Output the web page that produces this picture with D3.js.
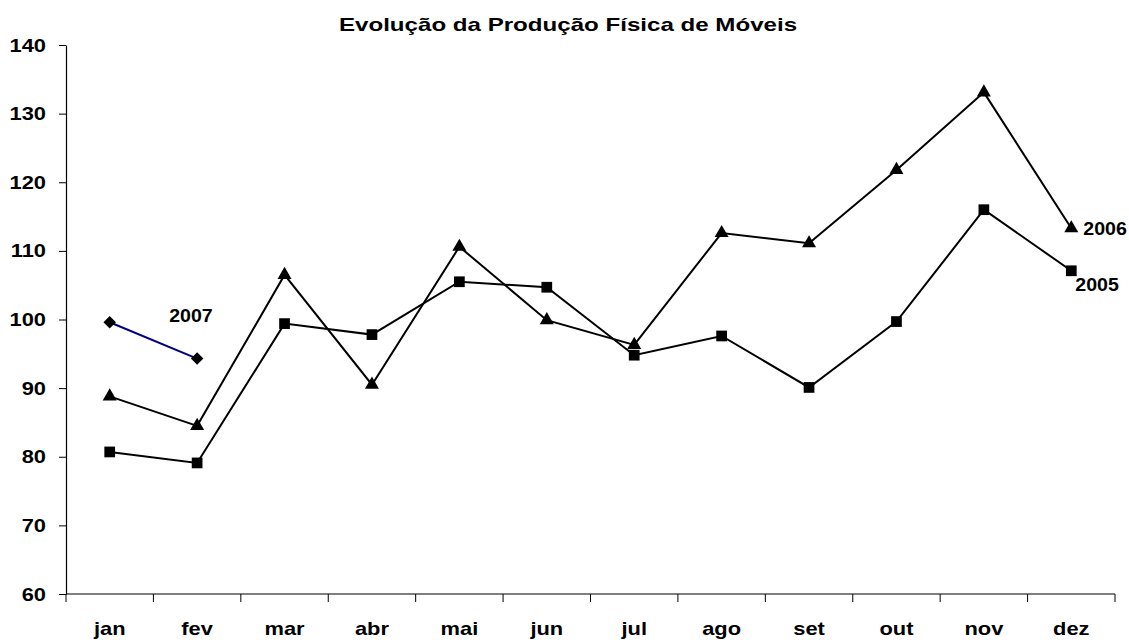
<!DOCTYPE html>
<html>
<head>
<meta charset="utf-8">
<script src="https://cdn.jsdelivr.net/npm/d3@7"></script>
<style>
  html, body { margin: 0; padding: 0; background: #fff; }
  svg { display: block; }
  text { font-family: "Liberation Sans", Arial, sans-serif; font-weight: bold; fill: #000; }
</style>
</head>
<body>
<svg id="chart" width="1129" height="640"></svg>
<script>
const months = ["jan","fev","mar","abr","mai","jun","jul","ago","set","out","nov","dez"];
const yTicks = [60,70,80,90,100,110,120,130,140];
const s2005 = [80.7,79.1,99.4,97.8,105.5,104.7,94.8,97.6,90.1,99.7,116.0,107.1];
const s2006 = [88.8,84.5,106.5,90.5,110.6,99.9,96.3,112.6,111.1,121.8,133.1,113.3];
const s2007 = [99.6,94.3];
const title = "Evolução da Produção Física de Móveis";

(function(){
const svg = d3.select("#chart");
const pLeft = 66, pRight = 1115, pTop = 45, pBottom = 594;

const x = d3.scaleBand().domain(months).range([pLeft, pRight]).padding(0);
const y = d3.scaleLinear().domain([60,140]).range([pBottom, pTop]);
const cx = m => x(m) + x.bandwidth()/2;
const SX = 1.25; // horizontal glyph stretch seen in the reference

// Title
svg.append("text")
  .attr("transform", `translate(568,31) scale(1.34,1)`)
  .attr("text-anchor","middle")
  .style("font-size","18px")
  .text(title);

// Y axis
const yAxis = svg.append("g").attr("transform",`translate(${pLeft},0)`)
  .call(d3.axisLeft(y).tickValues(yTicks).tickSize(7).tickSizeOuter(0).tickPadding(13));
yAxis.select(".domain").attr("stroke","#000").attr("stroke-width",1.2);
yAxis.selectAll(".tick line").attr("stroke","#000");
yAxis.selectAll(".tick text")
  .style("font-size","17.5px").style("font-family","Liberation Sans, Arial, sans-serif").style("font-weight","bold")
  .attr("fill","#000")
  .attr("dy",null).attr("y",6)
  .attr("transform", `translate(-20,0) scale(${SX},1) translate(20,0)`);

// X axis
const xAxis = svg.append("g").attr("transform",`translate(0,${pBottom})`);
xAxis.append("line").attr("x1",pLeft).attr("x2",pRight).attr("y1",0).attr("y2",0)
  .attr("stroke","#000").attr("stroke-width",1.2);
const bounds = months.map(m => x(m)).concat([pRight]);
xAxis.selectAll("line.tk").data(bounds).enter().append("line").attr("class","tk")
  .attr("x1",d=>d).attr("x2",d=>d).attr("y1",0).attr("y2",8)
  .attr("stroke","#000").attr("stroke-width",1);
xAxis.selectAll("text.ml").data(months).enter().append("text").attr("class","ml")
  .attr("text-anchor","middle")
  .attr("transform", d => `translate(${cx(d)},41) scale(${SX},1)`)
  .style("font-size","17.5px")
  .text(d=>d);

// Lines
const line = d3.line().x(d=>cx(d.m)).y(d=>y(d.v));
function series(vals, color, shape, size, rot){
  const pts = vals.map((v,i)=>({m:months[i], v}));
  svg.append("path").datum(pts).attr("d", line)
    .attr("fill","none").attr("stroke",color).attr("stroke-width",2);
  svg.selectAll(null).data(pts).enter().append("path")
    .attr("transform", d=>`translate(${cx(d.m)},${y(d.v)}) rotate(${rot||0})`)
    .attr("d", d3.symbol().type(shape).size(size))
    .attr("fill","#000");
  return pts;
}
const p2005 = series(s2005, "#000", d3.symbolSquare, 115);
const p2006 = series(s2006, "#000", d3.symbolTriangle, 85);
const p2007 = series(s2007, "#000080", d3.symbolSquare, 78, 45);

// Series labels
const LX = 1.12;
const lbl = (txt, px, py) => svg.append("text")
  .attr("transform", `translate(${px},${py}) scale(${LX},1)`)
  .style("font-size","17.5px").text(txt);
const d06 = p2006[p2006.length-1], d05 = p2005[p2005.length-1], d07 = p2007[p2007.length-1];
lbl("2006", cx(d06.m)+12, y(d06.v)+7);
lbl("2005", cx(d05.m)+4, y(d05.v)+20);
lbl("2007", cx(d07.m)-28, y(d07.v)-37);
})();
</script>
</body>
</html>
